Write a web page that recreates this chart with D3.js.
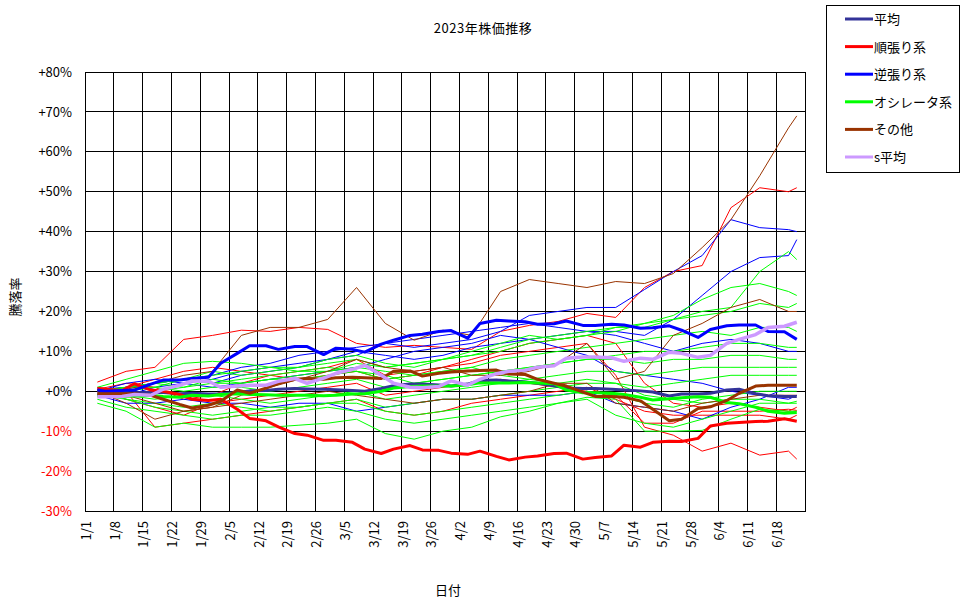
<!DOCTYPE html>
<html>
<head>
<meta charset="utf-8">
<script src="https://cdn.jsdelivr.net/npm/d3@7"></script>
<style>
  body { margin: 0; background: #fff; }
  svg { display: block; }
  text { font-family: "Noto Sans CJK JP", "DejaVu Sans", sans-serif; }
</style>
</head>
<body>
<div id="chart"></div>
<script>
// dates for the group averages (twice a week) and for single stocks (weekly)
const denseDates = ['1/4', '1/6', '1/10', '1/13', '1/17', '1/20', '1/24', '1/27', '1/31', '2/3',
  '2/7', '2/10', '2/14', '2/17', '2/21', '2/24', '2/28', '3/3', '3/7', '3/10',
  '3/14', '3/17', '3/21', '3/24', '3/28', '3/31', '4/4', '4/7', '4/11', '4/14',
  '4/18', '4/21', '4/25', '4/28', '5/2', '5/5', '5/9', '5/12', '5/16', '5/19',
  '5/23', '5/26', '5/30', '6/2', '6/6', '6/9', '6/13', '6/16', '6/20', '6/23'];
const weekDates = ['1/4', '1/11', '1/18', '1/25', '2/1', '2/8', '2/15', '2/22', '3/1', '3/8',
  '3/15', '3/22', '3/29', '4/5', '4/12', '4/19', '4/26', '5/3', '5/10', '5/17',
  '5/24', '5/31', '6/7', '6/14', '6/21', '6/23'];

// group averages (%)
const avgAll = [-0.6, -0.5, -0.5, -0.4, -0.3, -0.3, -0.6, -0.5, -0.7, -0.6,
  -0.3, 0.1, 0.2, 0.5, 0.7, 0.6, 0.5, 0.4, 0.2, 0.0,
  0.7, 1.4, 1.8, 1.8, 1.6, 1.3, 1.8, 2.7, 2.8, 2.6,
  2.3, 2.0, 1.4, 0.8, 0.7, 0.7, 0.5, 0.3, 0.1, -0.2,
  -1.2, -0.7, -0.7, -0.5, 0.3, 0.5, -0.6, -1.1, -1.3, -1.3];
const trendAvg = [0.7, 0.5, 0.2, 1.9, 0.3, 0.0, -0.8, -2.0, -2.3, -2.0,
  -4.5, -6.8, -7.4, -8.9, -10.6, -11.0, -12.3, -12.3, -12.8, -14.5,
  -15.6, -14.5, -13.6, -14.7, -14.8, -15.5, -15.8, -15.0, -16.3, -17.2,
  -16.5, -16.2, -15.6, -15.5, -17.0, -16.6, -16.2, -13.5, -14.0, -12.8,
  -12.5, -12.6, -11.8, -8.7, -8.0, -7.8, -7.6, -7.5, -6.9, -7.5];
const contraAvg = [0.3, 0.0, 0.2, 0.3, 1.8, 2.8, 2.8, 3.2, 3.5, 7.0,
  9.5, 11.4, 11.4, 10.5, 11.2, 11.2, 9.2, 10.8, 10.5, 9.8,
  11.8, 12.8, 14.0, 14.3, 15.0, 15.2, 13.3, 17.0, 17.8, 17.6,
  17.4, 16.8, 16.9, 17.6, 16.5, 16.5, 16.8, 16.6, 15.8, 15.9,
  16.4, 15.3, 13.5, 15.5, 16.4, 16.6, 16.6, 15.0, 14.9, 13.0];
const oscAvg = [-1.2, -1.0, -1.3, -1.2, -1.0, -1.3, -1.5, -1.0, -1.2, -0.8,
  -0.6, -0.8, -0.9, -1.0, -1.0, -1.0, -1.1, -1.0, -0.7, -0.6,
  0.0, 0.8, 1.2, 1.3, 1.3, 1.3, 1.6, 2.1, 2.1, 2.1,
  2.2, 2.1, 1.9, 0.3, -0.4, -0.4, -0.5, -0.8, -1.5, -2.2,
  -1.9, -1.6, -1.4, -1.5, -2.8, -3.1, -4.0, -5.0, -5.5, -5.3];
const otherAvg = [-0.6, -0.6, -0.6, -0.6, -1.0, -2.0, -3.3, -4.2, -3.5, -2.5,
  0.3, -0.5, 0.8, 2.0, 3.0, 3.2, 3.0, 3.4, 3.5, 3.4,
  3.2, 5.0, 5.1, 3.8, 4.5, 4.8, 5.1, 5.2, 5.3, 4.3,
  4.2, 3.0, 2.0, 1.3, -0.2, -1.3, -1.3, -1.5, -2.4, -4.5,
  -7.4, -7.0, -4.3, -3.9, -2.3, -0.5, 1.3, 1.5, 1.5, 1.5];
const sAvg = [-1.4, -1.4, -1.3, -0.8, -1.0, 0.5, 1.5, 2.6, 2.5, 1.0,
  1.3, 1.5, 1.5, 2.5, 3.2, 2.0, 3.3, 4.5, 5.5, 6.5,
  4.0, 2.0, 1.0, 0.9, 1.2, 2.6, 1.5, 3.0, 4.4, 5.0,
  5.3, 6.0, 6.4, 8.3, 8.6, 8.6, 8.4, 7.5, 8.3, 8.0,
  9.8, 9.5, 8.5, 9.0, 12.0, 13.0, 14.2, 16.0, 16.3, 17.3];

// single stocks (%), weekly
const trendStocks = [
  [2.3, 5.0, 6.0, 13.0, 14.0, 15.3, 15.0, 16.0, 15.5, 12.0, 11.0, 11.5, 11.0, 10.5, 15.0, 16.5, 17.5, 19.5, 18.5, 26.0, 30.0, 31.5, 46.0, 51.0, 50.0, 51.0],
  [0.5, 2.0, 1.0, -2.0, -1.0, 2.0, 4.0, 5.0, 6.0, 8.0, 4.0, 5.0, 6.0, 7.0, 9.0, 10.0, 11.0, 12.0, 4.0, -9.0, -11.0, -15.0, -13.0, -16.0, -15.0, -17.0],
  [0.0, -2.0, -4.0, -6.0, -3.0, -2.0, -1.0, 0.0, 1.0, 2.0, -1.0, 0.0, 1.0, 2.0, 3.0, 2.0, 1.0, 0.0, -1.0, -8.0, -8.0, -5.0, -5.0, -5.0, -4.5, -4.8],
  [1.0, 0.0, -9.0, -8.0, -7.0, -6.0, -5.0, -4.0, -3.0, -2.0, -5.0, -6.0, -5.0, -3.0, -2.0, -1.0, 0.0, 1.0, -2.0, -5.0, -6.0, -6.0, -6.0, -6.0, -7.0, -6.0],
  [0.0, 1.0, 3.0, 5.0, 6.0, 5.0, 4.0, 3.0, 4.0, 5.0, 3.0, 4.0, 6.0, 8.0, 10.0, 12.0, 13.0, 14.0, 12.0, 2.0, -3.0, -4.0, -3.0, -4.0, -5.0, -4.0],
];
const contraStocks = [
  [0.5, 1.0, 2.0, 3.0, 4.0, 6.0, 7.0, 9.0, 10.0, 11.0, 12.0, 11.0, 12.0, 13.0, 15.0, 19.0, 20.0, 21.0, 21.0, 25.5, 30.0, 34.0, 43.0, 41.0, 40.5, 40.0],
  [0.0, -1.0, 1.0, 2.0, 3.0, 5.0, 6.0, 7.0, 8.0, 9.0, 12.0, 13.0, 14.0, 15.0, 16.0, 17.0, 16.0, 15.0, 15.0, 14.0, 18.0, 24.0, 30.0, 33.5, 34.0, 38.0],
  [0.0, 1.0, 2.0, 3.0, 2.0, 4.0, 5.0, 6.0, 8.0, 10.0, 9.0, 8.0, 9.0, 11.0, 12.0, 13.0, 14.0, 15.0, 14.0, 12.0, 10.0, 12.0, 13.0, 12.0, 10.0, 10.0],
  [-1.0, -3.0, -3.0, -2.0, -3.0, -3.0, -4.0, -3.0, -3.0, -5.0, -4.0, -3.0, -2.0, -2.0, -1.0, -1.0, -1.0, 0.0, -3.0, -4.0, -5.0, -7.0, -4.0, -2.0, 1.0, 1.0],
  [0.0, 2.0, 3.0, 2.0, 1.0, 2.0, 3.0, 4.0, 5.0, 6.0, 8.0, 10.0, 11.0, 12.0, 14.0, 13.0, 11.0, 9.0, 5.0, 4.0, 3.0, 2.0, 0.0, -1.0, -2.0, -1.0],
];
const oscStocks = [
  [0.0, 1.0, 2.0, 3.0, 2.0, 3.0, 4.0, 5.0, 5.0, 7.0, 6.0, 7.0, 8.0, 10.0, 12.0, 14.0, 13.0, 14.0, 15.0, 17.0, 18.0, 20.0, 21.0, 30.0, 35.0, 33.0],
  [0.0, 1.0, 1.0, 3.0, 4.0, 5.0, 6.0, 6.0, 7.0, 8.0, 6.0, 7.0, 8.0, 9.0, 10.0, 12.0, 13.0, 14.0, 16.0, 17.0, 19.0, 23.0, 26.0, 27.0, 25.0, 24.0],
  [-1.0, 0.0, 2.0, 3.0, 5.0, 4.0, 5.0, 6.0, 8.0, 9.0, 7.0, 6.0, 8.0, 9.0, 11.0, 13.0, 14.0, 15.0, 16.0, 16.0, 18.0, 19.0, 20.0, 22.0, 21.0, 22.0],
  [0.0, 1.0, 2.0, 1.0, 3.0, 2.0, 3.0, 4.0, 5.0, 6.0, 5.0, 4.0, 5.0, 6.0, 8.0, 9.0, 10.0, 11.0, 12.0, 13.0, 14.0, 15.0, 14.0, 16.0, 16.0, 15.0],
  [0.0, -1.0, 0.0, 1.0, 2.0, 2.0, 3.0, 3.0, 4.0, 5.0, 4.0, 2.0, 3.0, 4.0, 5.0, 6.0, 7.0, 8.0, 9.0, 10.0, 10.0, 11.0, 12.0, 12.0, 11.0, 11.0],
  [0.0, 0.0, 1.0, 0.0, 1.0, 1.0, 0.0, 1.0, 2.0, 3.0, 1.0, 2.0, 3.0, 4.0, 5.0, 6.0, 7.0, 8.0, 8.0, 7.0, 8.0, 8.0, 9.0, 9.0, 8.0, 8.0],
  [0.0, -1.0, -2.0, -1.0, -1.0, -2.0, -3.0, -2.0, -1.0, 0.0, -2.0, -1.0, 0.0, 1.0, 2.0, 3.0, 4.0, 5.0, 5.0, 4.0, 5.0, 6.0, 6.0, 6.0, 6.0, 6.0],
  [-1.0, -2.0, -3.0, -4.0, -3.0, -4.0, -5.0, -4.0, -3.0, -2.0, -4.0, -3.0, -2.0, -2.0, -1.0, 0.0, 1.0, 2.0, 2.0, 1.0, 2.0, 3.0, 4.0, 4.0, 4.0, 4.0],
  [0.0, -2.0, -4.0, -5.0, -6.0, -5.0, -4.0, -4.0, -3.0, -3.0, -5.0, -6.0, -5.0, -4.0, -3.0, -2.0, -1.0, 0.0, -1.0, -3.0, -4.0, -2.0, -1.0, 0.0, 0.0, 0.0],
  [-2.0, -4.0, -5.0, -6.0, -7.0, -6.0, -6.0, -5.0, -4.0, -5.0, -7.0, -8.0, -7.0, -6.0, -5.0, -4.0, -3.0, -2.0, -6.0, -8.0, -9.0, -7.0, -5.0, -3.0, -3.0, -3.0],
  [-3.0, -5.0, -9.0, -8.0, -9.0, -9.0, -9.0, -8.5, -8.0, -7.0, -10.6, -12.0, -10.0, -9.0, -6.4, -5.0, -3.0, -1.5, -2.0, -10.0, -10.0, -9.8, -7.0, -4.5, -5.0, -5.0],
  [1.0, 3.0, 5.0, 7.0, 7.5, 7.0, 6.0, 5.0, 6.0, 5.0, 3.0, 4.0, 5.0, 6.0, 4.0, 3.0, 2.0, 3.0, 2.0, -1.0, -2.0, -3.0, -2.0, -2.0, -3.0, -2.5],
];
const otherStocks = [
  [0.0, 0.5, 2.0, 4.0, 5.0, 14.0, 16.0, 16.0, 18.0, 26.0, 17.0, 12.8, 15.3, 14.0, 25.0, 28.0, 27.0, 26.0, 27.5, 27.0, 29.5, 36.0, 43.0, 54.0, 66.0, 69.0],
  [0.0, -1.0, -3.0, -5.0, -4.0, -1.0, 1.0, 3.0, 5.0, 8.0, 6.0, 5.0, 6.0, 4.0, 4.0, 5.0, 7.0, 12.0, 3.0, 5.0, 14.0, 17.0, 21.0, 23.0, 20.0, 20.0],
  [0.0, -3.0, -7.0, -5.0, -4.0, -3.0, -2.0, -1.0, 0.0, -1.0, -2.0, -3.0, -2.0, -2.0, -1.0, 0.0, 2.0, 2.0, -3.0, -4.0, -5.0, -3.0, -2.0, -1.0, -1.0, -1.0],
];

const yTicks = [-30, -20, -10, 0, 10, 20, 30, 40, 50, 60, 70, 80];
const legendLabels = ['平均', '順張り系', '逆張り系', 'オシレータ系', 'その他', 's平均'];

const WIDTH = 970;
const HEIGHT = 604;
const PLOT_LEFT = 85;
const PLOT_RIGHT = 805;
const PLOT_TOP = 72;
const PLOT_BOTTOM = 511;
const FONT_SIZE = '13px';

const COLORS = {
  avg: '#333399',
  trend: '#ff0000',
  contra: '#0000ff',
  osc: '#00ff00',
  other: '#993300',
  sAvg: '#cc99ff',
};

const parseDay = d3.utcParse('%Y/%m/%d');
const toDate = (s) => parseDay('2023/' + s);
const formatTick = d3.utcFormat('%-m/%-d');

const startDay = toDate('1/1');
const endDay = toDate('6/25');
const weekTicks = d3.range(0, 176, 7).map((i) => d3.utcDay.offset(startDay, i));

const x = d3.scaleUtc().domain([startDay, endDay]).range([PLOT_LEFT, PLOT_RIGHT]);
const y = d3.scaleLinear().domain([-30, 80]).range([PLOT_BOTTOM, PLOT_TOP]);

const svg = d3.select('#chart').append('svg').attr('width', WIDTH).attr('height', HEIGHT);
svg.append('rect').attr('width', WIDTH).attr('height', HEIGHT).attr('fill', '#fff');

drawGrid();
drawAxes();

const line = d3.line().x((d) => x(d[0])).y((d) => y(d[1]));
const thinGroups = [
  [trendStocks, COLORS.trend],
  [contraStocks, COLORS.contra],
  [oscStocks, COLORS.osc],
  [otherStocks, COLORS.other],
];
thinGroups.forEach(([stocks, color]) => {
  stocks.forEach((values) => drawSeries(weekDates, values, color, 1));
});

drawSeries(denseDates, avgAll, COLORS.avg, 3);
drawSeries(denseDates, trendAvg, COLORS.trend, 3);
drawSeries(denseDates, contraAvg, COLORS.contra, 3);
drawSeries(denseDates, oscAvg, COLORS.osc, 3);
drawSeries(denseDates, otherAvg, COLORS.other, 3);
drawSeries(denseDates, sAvg, COLORS.sAvg, 3.5);

drawFrame();
drawLegend();
drawTitles();

function drawSeries(dates, values, color, width) {
  const points = values.map((v, i) => [toDate(dates[i]), v]);
  svg.append('path')
    .attr('d', line(points))
    .attr('fill', 'none')
    .attr('stroke', color)
    .attr('stroke-width', width)
    .attr('stroke-linejoin', 'round');
}

function drawGrid() {
  const grid = svg.append('g').attr('stroke', '#000').attr('stroke-width', 1).attr('shape-rendering', 'crispEdges');
  yTicks.forEach((t) => {
    grid.append('line').attr('x1', PLOT_LEFT).attr('x2', PLOT_RIGHT).attr('y1', y(t)).attr('y2', y(t));
  });
  weekTicks.forEach((d) => {
    grid.append('line').attr('x1', x(d)).attr('x2', x(d)).attr('y1', PLOT_TOP).attr('y2', PLOT_BOTTOM);
  });
}

function drawFrame() {
  svg.append('rect')
    .attr('x', PLOT_LEFT).attr('y', PLOT_TOP)
    .attr('width', PLOT_RIGHT - PLOT_LEFT).attr('height', PLOT_BOTTOM - PLOT_TOP)
    .attr('fill', 'none').attr('stroke', '#000').attr('shape-rendering', 'crispEdges');
}

function drawAxes() {
  const yAxis = svg.append('g')
    .attr('transform', `translate(${PLOT_LEFT},0)`)
    .call(d3.axisLeft(y).tickValues(yTicks).tickSize(0).tickPadding(13)
      .tickFormat((d) => (d >= 0 ? '+' : '') + d + '%'));
  yAxis.select('.domain').remove();
  yAxis.selectAll('text')
    .attr('font-size', FONT_SIZE)
    .attr('font-family', null)
    .attr('fill', (d) => (d < 0 ? '#ff0000' : '#000'));

  const xAxis = svg.append('g')
    .attr('transform', `translate(0,${PLOT_BOTTOM})`)
    .call(d3.axisBottom(x).tickValues(weekTicks.slice(0, -1)).tickSize(0).tickFormat(formatTick));
  xAxis.select('.domain').remove();
  xAxis.selectAll('text')
    .attr('font-size', FONT_SIZE)
    .attr('font-family', null)
    .attr('fill', '#000')
    .attr('text-anchor', 'end')
    .attr('transform', 'rotate(-90)')
    .attr('x', -10)
    .attr('y', 0)
    .attr('dy', '0.4em');
}

function drawTitles() {
  svg.append('text')
    .attr('x', 483).attr('y', 33)
    .attr('text-anchor', 'middle')
    .attr('font-size', FONT_SIZE)
    .attr('letter-spacing', '0.5px')
    .text('2023年株価推移');

  svg.append('text')
    .attr('x', 448).attr('y', 595)
    .attr('text-anchor', 'middle')
    .attr('font-size', FONT_SIZE)
    .text('日付');

  svg.append('text')
    .attr('transform', 'translate(20,297) rotate(-90)')
    .attr('text-anchor', 'middle')
    .attr('font-size', FONT_SIZE)
    .text('騰落率');
}

function drawLegend() {
  const colors = [COLORS.avg, COLORS.trend, COLORS.contra, COLORS.osc, COLORS.other, COLORS.sAvg];
  const legend = svg.append('g');
  legend.append('rect')
    .attr('x', 826.5).attr('y', 5.5).attr('width', 133).attr('height', 167)
    .attr('fill', '#fff').attr('stroke', '#000');

  legendLabels.forEach((label, i) => {
    const ly = 19 + i * 27.6;
    legend.append('line')
      .attr('x1', 845).attr('x2', 873).attr('y1', ly).attr('y2', ly)
      .attr('stroke', colors[i]).attr('stroke-width', 3);
    legend.append('text')
      .attr('x', 874).attr('y', ly + 5)
      .attr('font-size', FONT_SIZE)
      .text(label);
  });
}
</script>
</body>
</html>
